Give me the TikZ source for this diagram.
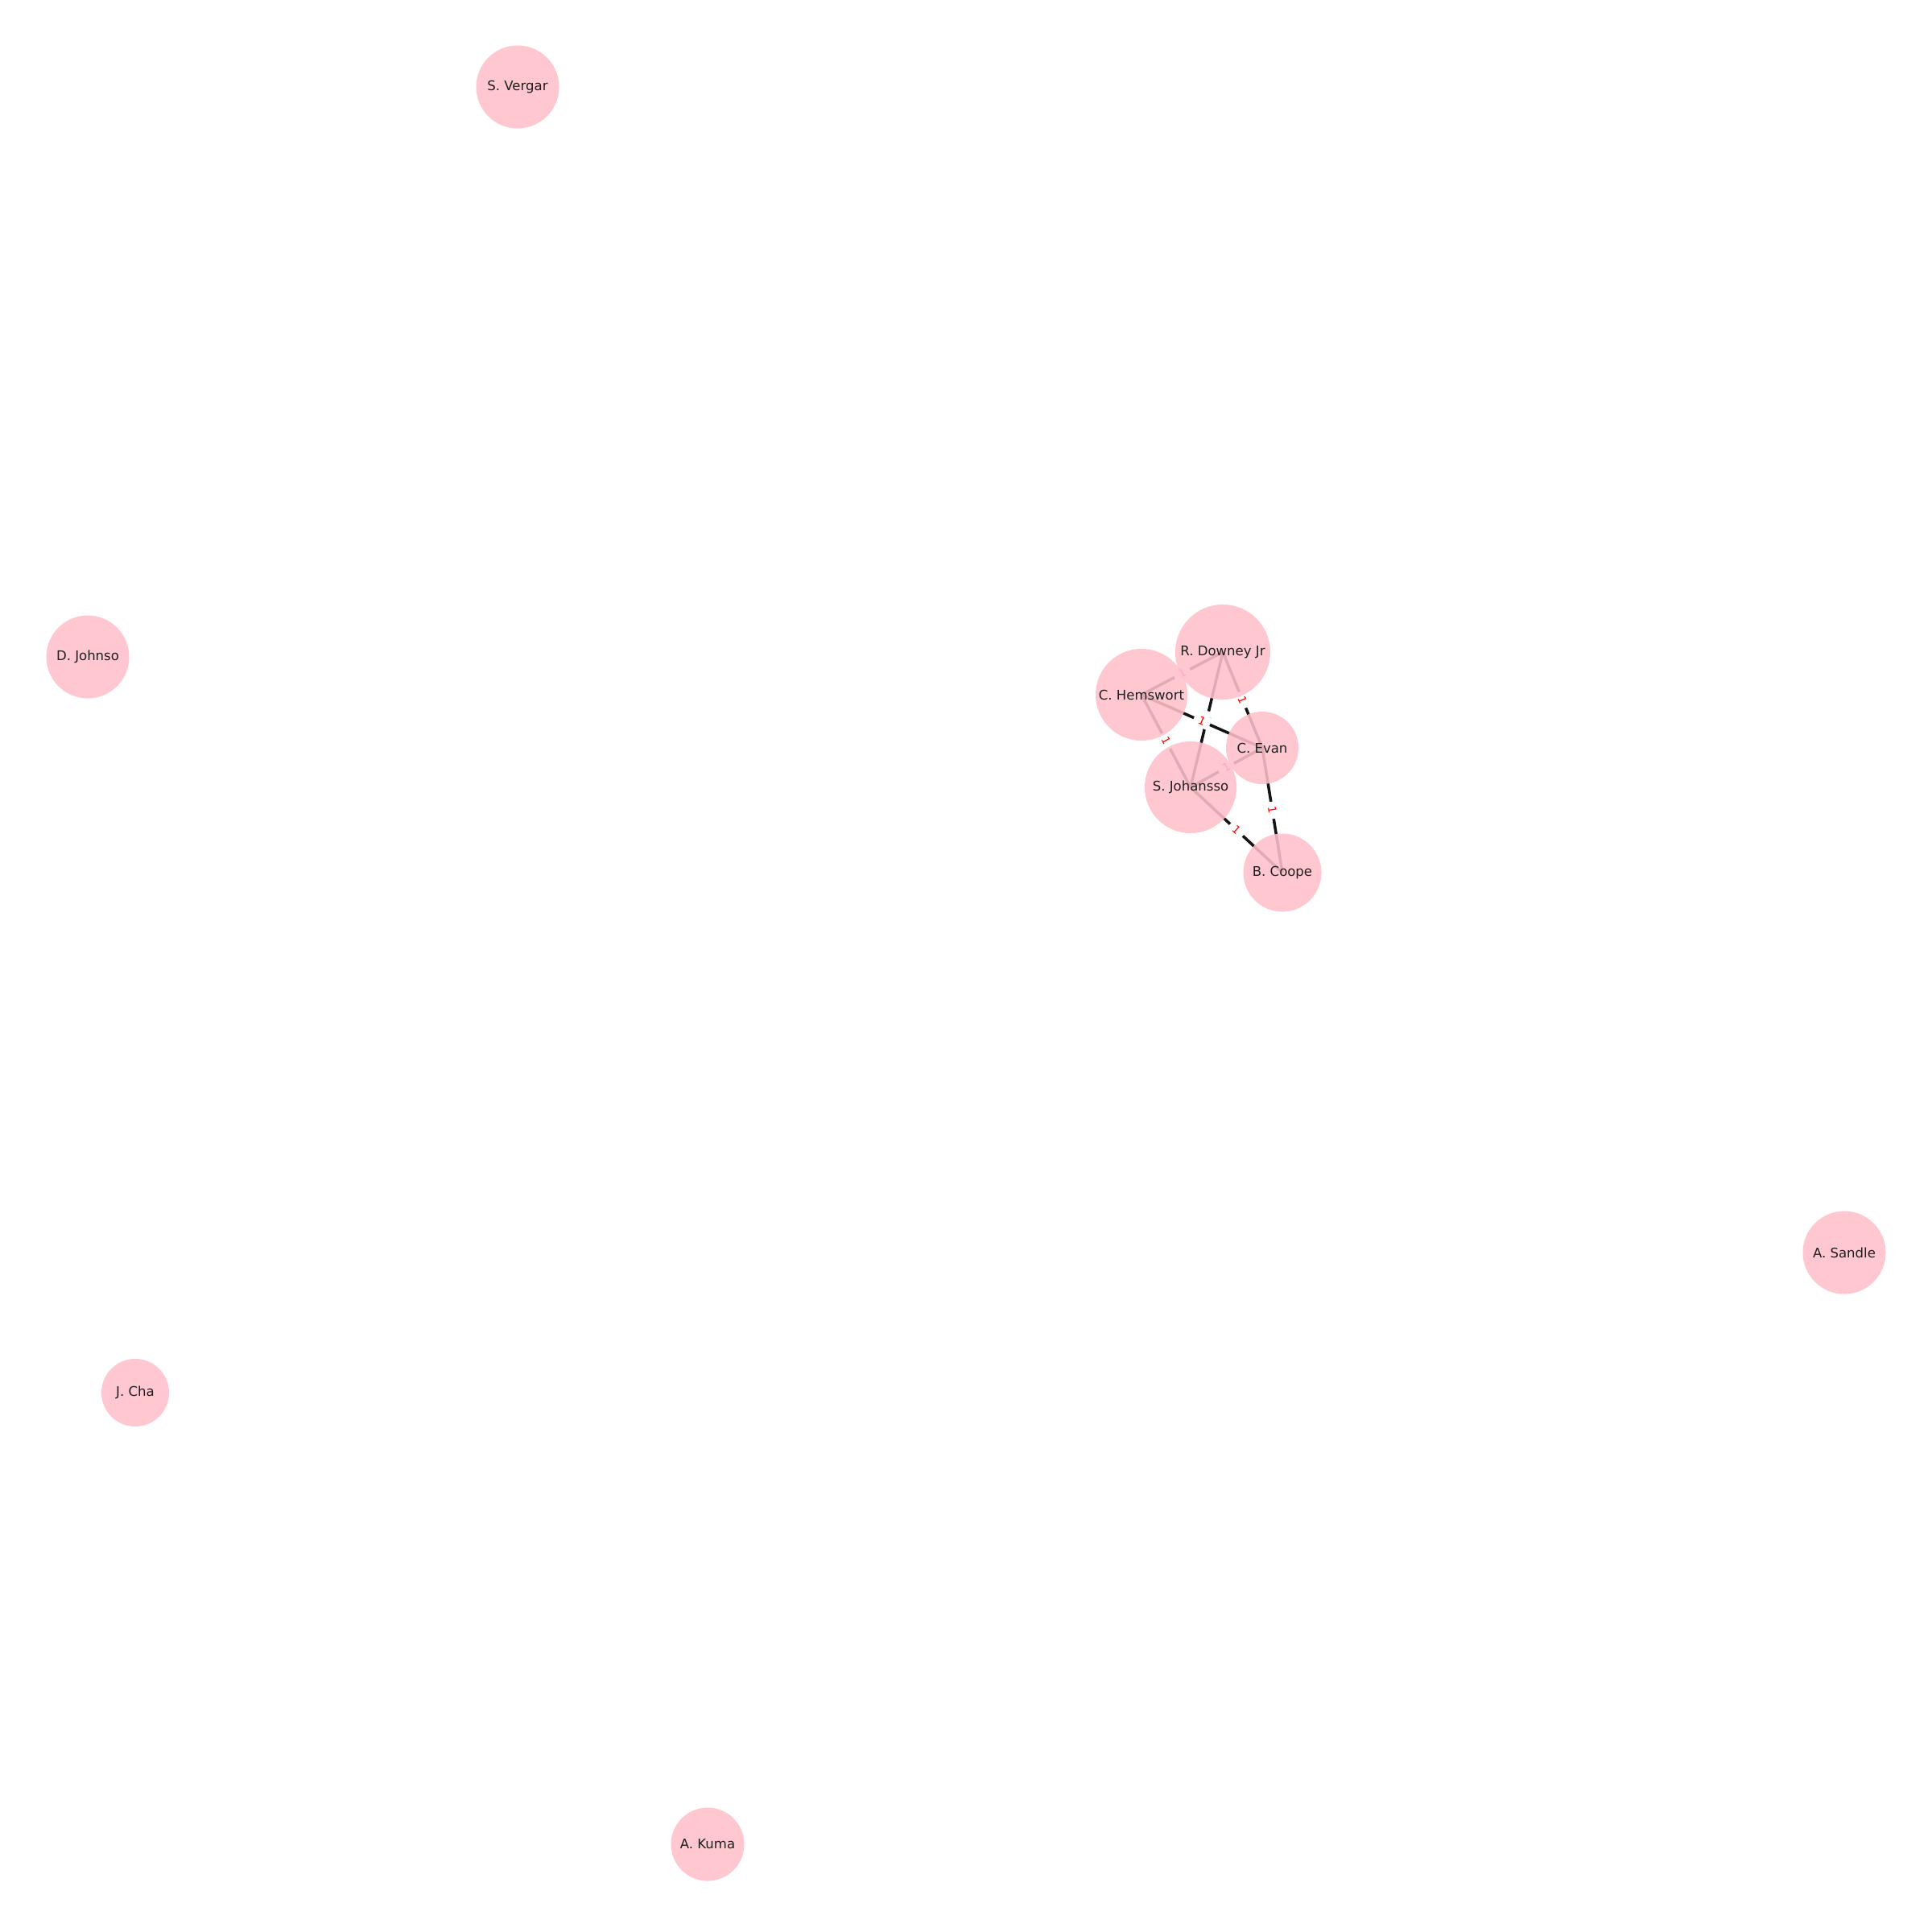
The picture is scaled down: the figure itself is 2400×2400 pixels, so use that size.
\documentclass[tikz,border=0pt]{standalone}
\usepackage{fontspec}
\setmainfont{DejaVu Sans}
\usetikzlibrary{backgrounds}
\definecolor{nodepink}{HTML}{FFC0CB}
\tikzset{
    actor/.style={
    circle,fill=nodepink,fill opacity=0.88,text opacity=1,text=black!88,inner sep=0pt,font=\fontsize{4.7}{5}\selectfont
    },
    costar/.style={
    draw=black!92,line width=1pt
    },
    weight/.style={
    sloped,fill=white,text=red,inner xsep=1.8pt,inner ysep=0.8pt,font=\fontsize{3.9}{4}\selectfont
    },
}

\begin{document}
\begin{tikzpicture}[x=0.01cm,y=-0.01cm]
   \useasboundingbox (0,0) rectangle (2400,2400);
   %cluster
   \node[actor,minimum size=1.18cm] (rdj) at (1519,810) {R. Downey Jr};
   \node[actor,minimum size=1.14cm] (ch) at (1418,863) {C. Hemswort};
   \node[actor,minimum size=0.90cm] (ce) at (1568,929) {C. Evan};
   \node[actor,minimum size=1.14cm] (sj) at (1479,978) {S. Johansso};
   \node[actor,minimum size=0.97cm] (bc) at (1593,1084) {B. Coope};
   %loners
   \node[actor,minimum size=1.03cm] (sv) at (643,108) {S. Vergar};
   \node[actor,minimum size=1.03cm] (dj) at (109,816) {D. Johnso};
   \node[actor,minimum size=1.03cm] (as) at (2291,1556) {A. Sandle};
   \node[actor,minimum size=0.84cm] (jc) at (168,1730) {J. Cha};
   \node[actor,minimum size=0.91cm] (ak) at (879,2291) {A. Kuma};

   \begin{scope}[on background layer]
   \path
   %rdj
    (rdj.center) edge[costar] node[weight] {1} (ch.center)
    (rdj.center) edge[costar] node[weight] {1} (sj.center)
    (rdj.center) edge[costar] node[weight] {1} (ce.center)
   %ch
    (ch.center) edge[costar] node[weight] {1} (ce.center)
    (ch.center) edge[costar] node[weight] {1} (sj.center)
   %sj
    (sj.center) edge[costar] node[weight] {1} (ce.center)
    (sj.center) edge[costar] node[weight] {1} (bc.center)
   %ce
    (ce.center) edge[costar] node[weight] {1} (bc.center)
   ;
   \end{scope}
\end{tikzpicture}
\end{document}
